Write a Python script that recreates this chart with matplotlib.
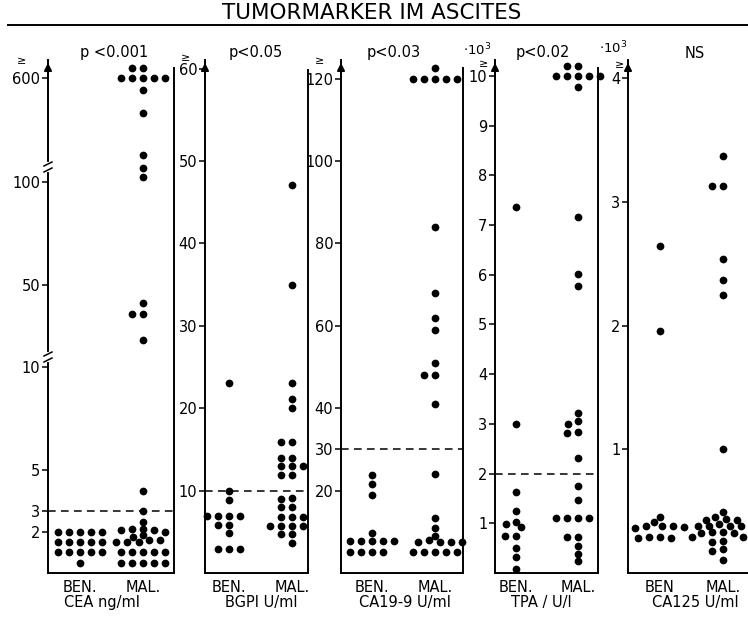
import numpy as np
import matplotlib
matplotlib.use("Agg")
import matplotlib.pyplot as plt
from matplotlib.lines import Line2D

W, H = 748, 618

# ---- data ----
cea_ben = [2.0] * 5 + [1.5] * 5 + [1.0] * 5 + [0.5]
cea_mal = [650, 650, 600, 600, 600, 600, 600, 540, 430, 230, 165, 125,
           41, 36, 36, 23, 4.0, 3.0, 2.5, 2.15, 2.15, 2.1, 2.1, 2.0,
           1.85, 1.75, 1.6, 1.6, 1.5, 1.5, 1.5] + [1.0] * 5 + [0.5] * 5

bgpi_ben = [23.0, 10.0, 8.9, 6.9, 6.9, 6.9, 6.9, 5.8, 5.8, 4.8, 2.9, 2.9, 2.9]
bgpi_mal = [47.1, 35.0, 23.1, 21.1, 20.0, 15.9, 15.9, 13.9, 13.9, 13.0, 13.0,
            13.0, 11.9, 11.9, 9.1, 9.0, 8.0, 8.0, 6.8, 6.8, 6.8, 5.7, 5.7,
            5.7, 5.7, 4.7, 4.7, 3.6]

ca199_ben = [23.8, 21.5, 18.9, 9.8] + [7.8] * 5 + [5.2] * 4
ca199_mal = [122.5] + [120] * 5 + [84, 68, 62, 59, 51, 48, 48, 41, 24,
                                   13.3, 11.0, 9.1, 7.9] + [7.6] * 4 + [5.2] * 5

tpa_ben = [7.36, 3.0, 1.62, 1.24, 1.03, 0.99, 0.92, 0.74, 0.74, 0.50, 0.32, 0.09]
tpa_mal = [10.19, 10.19] + [10.0] * 5 + [9.77, 7.16, 6.02, 5.78, 3.21, 3.06,
                                         3.0, 2.83, 2.81, 2.32, 1.76, 1.47] \
    + [1.11] * 4 + [0.72, 0.72, 0.54, 0.38, 0.24]

ca125_ben = [2.64, 1.96, 0.455, 0.415, 0.374, 0.36, 0.38, 0.38, 0.38,
             0.285, 0.29, 0.28, 0.29]
ca125_mal = [3.37, 3.13, 3.13, 2.54, 2.37, 2.25, 1.0, 0.49, 0.455, 0.44,
             0.43, 0.43, 0.40, 0.38, 0.38, 0.38, 0.38, 0.38, 0.33, 0.33,
             0.32, 0.32, 0.29, 0.29, 0.26, 0.25, 0.19, 0.18, 0.105]

cea_ticks = [2, 3, 5, 10, 50, 100, 600]
bgpi_ticks = [10, 20, 30, 40, 50, 60]
ca199_ticks = [20, 30, 40, 60, 80, 100, 120]
tpa_ticks = [1, 2, 3, 4, 5, 6, 7, 8, 9, 10]
ca125_ticks = [1, 2, 3, 4]

panels = [
    dict(ben=cea_ben, mal=cea_mal, ticks=cea_ticks, cut=3,
         p="p <0.001", p_x=114, unit="CEA ng/ml", unit_x=102, ben_lab="BEN.",
         left=48, right=174, bx=80, mx=143, rtop=68,
         nodes=([0, 10, 100, 600, 686], [0, 206, 391, 495, 513]),
         ge=(22, 61), e3=None),
    dict(ben=bgpi_ben, mal=bgpi_mal, ticks=bgpi_ticks, cut=10,
         p="p<0.05", p_x=256, unit="BGPI U/ml", unit_x=261, ben_lab="BEN.",
         left=205, right=308, bx=229, mx=292, rtop=70,
         nodes=([0, 50, 60, 61.0], [0, 412, 504, 513]),
         ge=(186, 58), e3=None),
    dict(ben=ca199_ben, mal=ca199_mal, ticks=ca199_ticks, cut=30,
         p="p<0.03", p_x=394, unit="CA19-9 U/ml", unit_x=405, ben_lab="BEN.",
         left=341, right=463, bx=372, mx=435, rtop=68,
         nodes=([0, 124.5], [0, 513]),
         ge=(320, 61), e3=None),
    dict(ben=tpa_ben, mal=tpa_mal, ticks=tpa_ticks, cut=2,
         p="p<0.02", p_x=543, unit="TPA / U/l", unit_x=541, ben_lab="BEN.",
         left=495, right=598, bx=516, mx=578, rtop=68,
         nodes=([0, 10.32], [0, 513]),
         ge=(484, 64), e3=(477, 50)),
    dict(ben=ca125_ben, mal=ca125_mal, ticks=ca125_ticks, cut=None,
         p="NS", p_x=695, unit="CA125 U/ml", unit_x=695, ben_lab="BEN",
         left=628, right=750, bx=660, mx=723, rtop=None,
         nodes=([0, 4.147], [0, 513]),
         ge=(620, 65), e3=(613, 48)),
]

TOP, BOTTOM = 60, 573


def make_scale(vals, pxs):
    vals = list(map(float, vals))
    pxs = list(map(float, pxs))
    s0 = (pxs[1] - pxs[0]) / (vals[1] - vals[0])
    s1 = (pxs[-1] - pxs[-2]) / (vals[-1] - vals[-2])
    v = [vals[0] - 1e6] + vals + [vals[-1] + 1e6]
    p = [pxs[0] - 1e6 * s0] + pxs + [pxs[-1] + 1e6 * s1]

    def fwd(x):
        return np.interp(x, v, p)

    def inv(y):
        return np.interp(y, p, v)
    return fwd, inv


def swarm(ypx, dx=11.0, dy=6.0, step=0.5):
    ypx = np.asarray(ypx, float)
    offs = np.zeros(len(ypx))
    placed = []
    cands = [0.0]
    for k in range(1, 200):
        cands += [-k * step, k * step]
    for i in np.argsort(-ypx, kind="stable"):
        y = ypx[i]
        for c in cands:
            if all(((c - px) / dx) ** 2 + ((y - py) / dy) ** 2 >= 1
                   for px, py in placed):
                break
        placed.append((c, y))
        offs[i] = c
    return offs


plt.rcParams["font.family"] = "DejaVu Sans"
fig = plt.figure(figsize=(W / 100, H / 100), dpi=100)

fig.text(372 / W, 1 - 13 / H, "TUMORMARKER IM ASCITES", ha="center",
         va="center", fontsize=15.5)
fig.add_artist(Line2D([8 / W, 1], [1 - 25 / H] * 2, color="k", lw=1.4))

for pn in panels:
    left, right = pn["left"], pn["right"]
    ax = fig.add_axes([left / W, 1 - BOTTOM / H, (right - left) / W,
                       (BOTTOM - TOP) / H])
    fwd, inv = make_scale(*pn["nodes"])
    ax.set_yscale("function", functions=(fwd, inv))
    ax.set_ylim(0, pn["nodes"][0][-1])

    s = pn["mx"] - pn["bx"]
    ax.set_xlim((left - pn["bx"]) / s, (right - pn["bx"]) / s)

    for i, vals in enumerate([pn["ben"], pn["mal"]]):
        off = swarm(fwd(np.array(vals, float)))
        ax.scatter(i + off / s, vals, s=31, color="black", lw=0,
                   clip_on=False, zorder=3)

    if pn["cut"] is not None:
        ax.axhline(pn["cut"], color="black", lw=1.1, ls=(0, (5, 3.5)))

    ax.spines["top"].set_visible(False)
    for sp in ["left", "bottom", "right"]:
        ax.spines[sp].set_linewidth(1.4)
    if pn["rtop"] is None:
        ax.spines["right"].set_visible(False)
    else:
        ax.spines["right"].set_bounds(0, inv(BOTTOM - pn["rtop"]))

    ax.set_yticks(pn["ticks"])
    ax.set_yticklabels([str(t) for t in pn["ticks"]])
    ax.yaxis.set_minor_locator(plt.NullLocator())
    ax.tick_params(axis="y", direction="out", length=4, width=1.1,
                   labelsize=10.5, pad=1.5)
    ax.set_xticks([0, 1])
    ax.set_xticklabels([pn["ben_lab"], "MAL."])
    ax.tick_params(axis="x", length=0, labelsize=10.5, pad=5)

    ax.annotate("", xy=(0, 1), xytext=(0, 0.96), xycoords="axes fraction",
                arrowprops=dict(arrowstyle="-|>", color="black", lw=1.4,
                                mutation_scale=11))

    fig.text(pn["p_x"] / W, 1 - 53 / H, pn["p"], ha="center", va="center",
             fontsize=10.5)
    fig.text(pn["unit_x"] / W, 1 - 602 / H, pn["unit"], ha="center",
             va="center", fontsize=10.5)
    gx, gy = pn["ge"]
    fig.text(gx / W, 1 - gy / H, "≥", ha="center", va="center", fontsize=8)
    if pn["e3"] is not None:
        ex, ey = pn["e3"]
        fig.text(ex / W, 1 - ey / H, r"$\cdot10^3$", ha="center",
                 va="center", fontsize=9.5)

# axis breaks on the CEA scale
for yb in (167, 357):
    fig.add_artist(Line2D([48 / W] * 2, [1 - (yb - 3) / H, 1 - (yb + 3) / H],
                          color="white", lw=3, zorder=5))
    for d in (-3, 3):
        fig.add_artist(Line2D([44 / W, 52 / W],
                              [1 - (yb + d + 2) / H, 1 - (yb + d - 2) / H],
                              color="black", lw=1.1, zorder=6))

fig.savefig("out.png", dpi=100)
